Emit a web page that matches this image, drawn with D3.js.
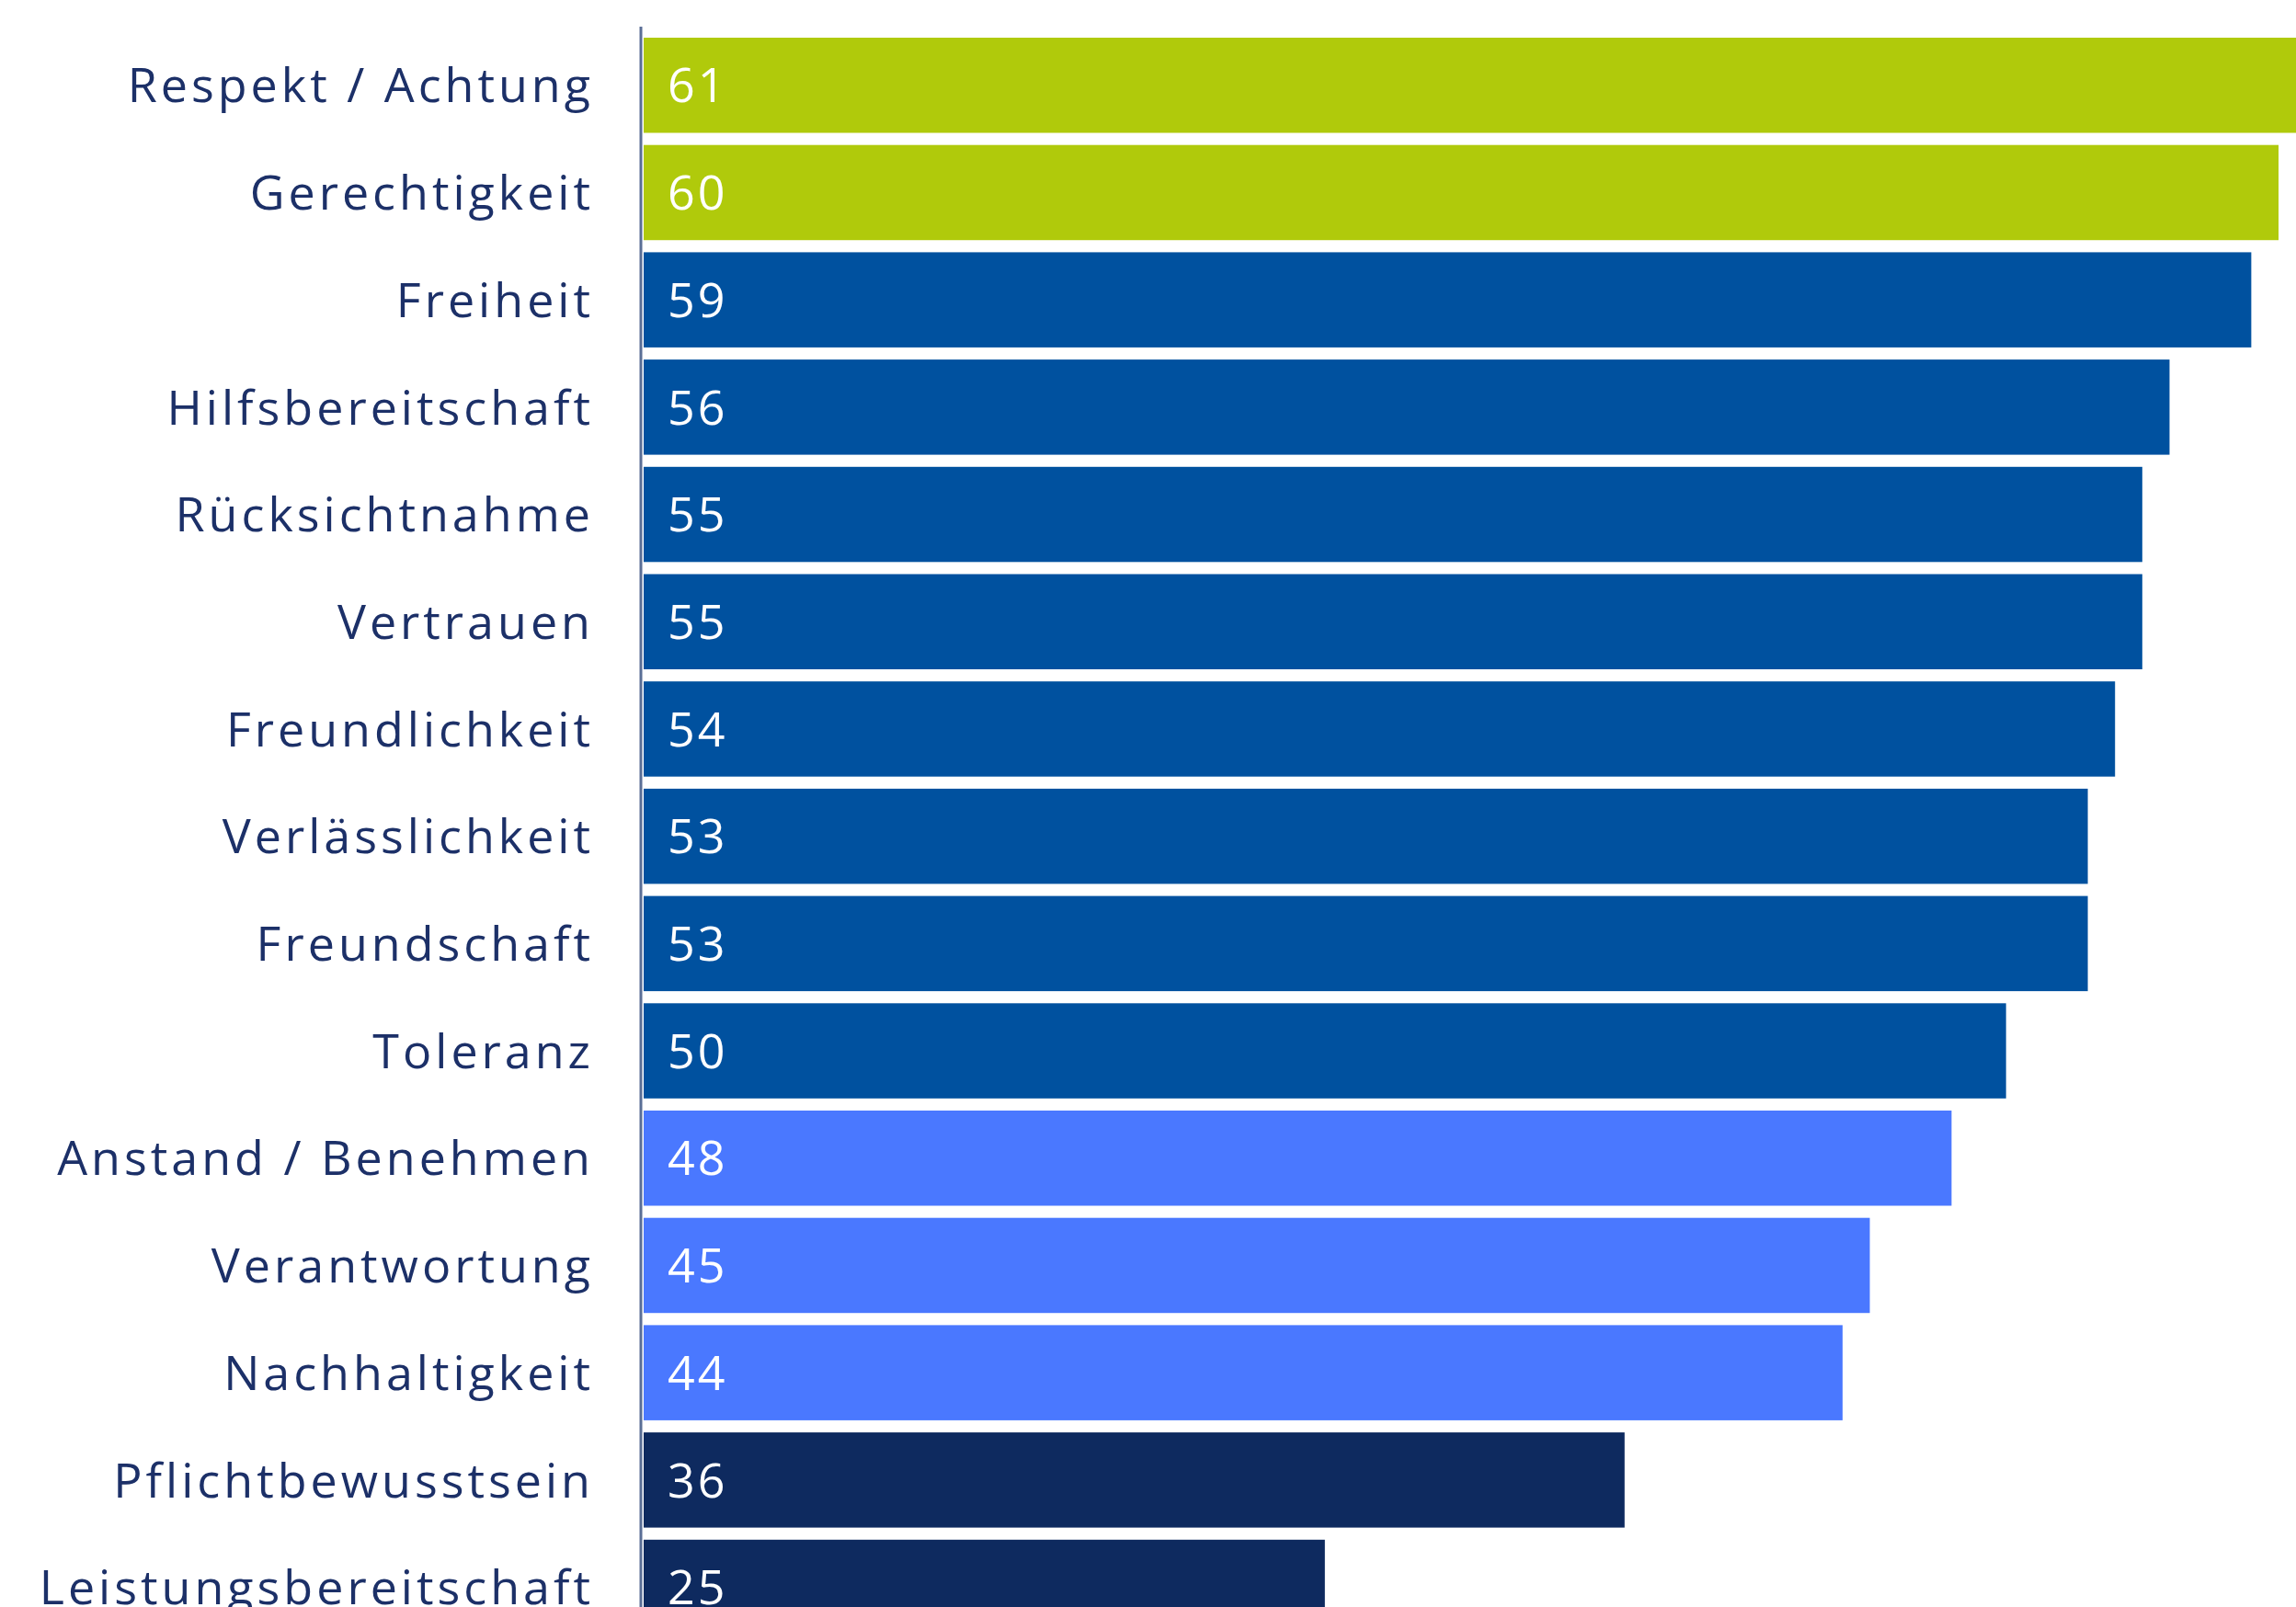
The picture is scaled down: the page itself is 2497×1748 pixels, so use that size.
<!DOCTYPE html>
<html>
<head>
<meta charset="utf-8">
<script src="https://cdn.jsdelivr.net/npm/d3@7"></script>
<style>
html, body { margin: 0; padding: 0; background: #ffffff; overflow: hidden; }
svg { display: block; }
</style>
</head>
<body>
<svg id="chart" width="2497" height="1748"></svg>
<script>
const categories = [
  "Respekt / Achtung", "Gerechtigkeit", "Freiheit", "Hilfsbereitschaft",
  "Rücksichtnahme", "Vertrauen", "Freundlichkeit", "Verlässlichkeit",
  "Freundschaft", "Toleranz", "Anstand / Benehmen", "Verantwortung",
  "Nachhaltigkeit", "Pflichtbewusstsein", "Leistungsbereitschaft"
];
const values = [61, 60, 59, 56, 55, 55, 54, 53, 53, 50, 48, 45, 44, 36, 25];
const groups = ["top", "top", "high", "high", "high", "high", "high", "high",
  "high", "high", "mid", "mid", "mid", "low", "low"];
const groupNames = ["top", "high", "mid", "low"];
const groupColors = ["#b0ca0b", "#00519f", "#4a78ff", "#0e2a5f"];

const svg = d3.select("#chart");
const W = 2497, H = 1748;
const FONT = "'Open Sans', sans-serif";

const x = d3.scaleLinear().domain([0, 60]).range([700, 2478]);
const step = 116.7, pad = 0.113;
const y0 = 41 - step * pad / 2;
const y = d3.scaleBand().domain(categories)
  .range([y0, y0 + step * categories.length])
  .paddingInner(pad).paddingOuter(pad / 2);
const color = d3.scaleOrdinal().domain(groupNames).range(groupColors);

const data = categories.map((c, i) => ({ c, v: values[i], g: groups[i] }));

svg.append("g").selectAll("rect").data(data).join("rect")
  .attr("x", x(0))
  .attr("y", d => y(d.c))
  .attr("width", d => x(d.v) - x(0))
  .attr("height", y.bandwidth())
  .attr("fill", d => color(d.g));

svg.append("g").selectAll("text").data(data).join("text")
  .attr("x", x(0) + 26)
  .attr("y", d => y(d.c) + y.bandwidth() / 2)
  .attr("dy", "0.36em")
  .attr("fill", "#ffffff")
  .attr("font-family", FONT)
  .attr("font-size", 52)
  .attr("letter-spacing", 3)
  .text(d => d.v);

const yAxis = d3.axisLeft(y).tickSize(0).tickPadding(51);
const ag = svg.append("g").attr("transform", `translate(${x(0) - 3},0)`).call(yAxis);
ag.select(".domain").remove();
ag.selectAll("text")
  .attr("fill", "#1c3068")
  .attr("font-family", FONT)
  .attr("font-size", 52)
  .attr("letter-spacing", 4)
  .attr("dy", "0.36em");

svg.append("line")
  .attr("x1", x(0) - 3).attr("x2", x(0) - 3)
  .attr("y1", 29).attr("y2", H)
  .attr("stroke", "#5a6e96").attr("stroke-width", 3);
</script>
</body>
</html>
